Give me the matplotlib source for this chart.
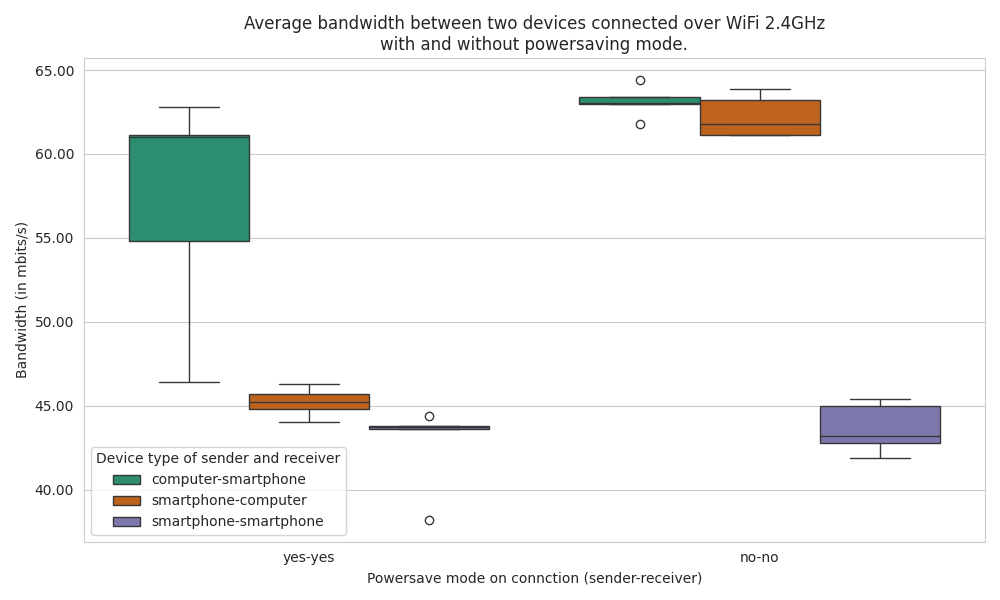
import matplotlib
matplotlib.use("Agg")
import matplotlib.pyplot as plt
import seaborn as sns
import pandas as pd
from matplotlib.ticker import FormatStrFormatter

modes = ["yes-yes", "no-no"]
devices = ["computer-smartphone", "smartphone-computer", "smartphone-smartphone"]

yes_comp_smart = [46.4, 54.8, 61.0, 61.1, 62.8]
yes_smart_comp = [44.0, 44.8, 45.2, 45.7, 46.3]
yes_smart_smart = [38.2, 43.6, 43.65, 43.7, 43.75, 43.8, 44.4]
no_comp_smart = [61.8, 62.95, 63.0, 63.05, 63.35, 63.4, 64.4]
no_smart_comp = [61.1, 61.1, 61.8, 63.2, 63.9]
no_smart_smart = [41.9, 42.8, 43.2, 45.0, 45.4]

groups = {
    ("yes-yes", devices[0]): yes_comp_smart,
    ("yes-yes", devices[1]): yes_smart_comp,
    ("yes-yes", devices[2]): yes_smart_smart,
    ("no-no", devices[0]): no_comp_smart,
    ("no-no", devices[1]): no_smart_comp,
    ("no-no", devices[2]): no_smart_smart,
}
rows = []
for (m, d), vals in groups.items():
    for v in vals:
        rows.append({"mode": m, "device": d, "bw": v})
df = pd.DataFrame(rows)

sns.set_style("whitegrid")
fig, ax = plt.subplots(figsize=(10, 6), dpi=100)
sns.boxplot(data=df, x="mode", y="bw", hue="device", order=modes,
            hue_order=devices, palette="Dark2", ax=ax)
ax.yaxis.set_major_formatter(FormatStrFormatter("%.2f"))
ax.set_xlabel("Powersave mode on connction (sender-receiver)")
ax.set_ylabel("Bandwidth (in mbits/s)")
ax.set_title("Average bandwidth between two devices connected over WiFi 2.4GHz\nwith and without powersaving mode.")
ax.legend(title="Device type of sender and receiver", loc="lower left")
fig.tight_layout()
fig.savefig("out.png")
